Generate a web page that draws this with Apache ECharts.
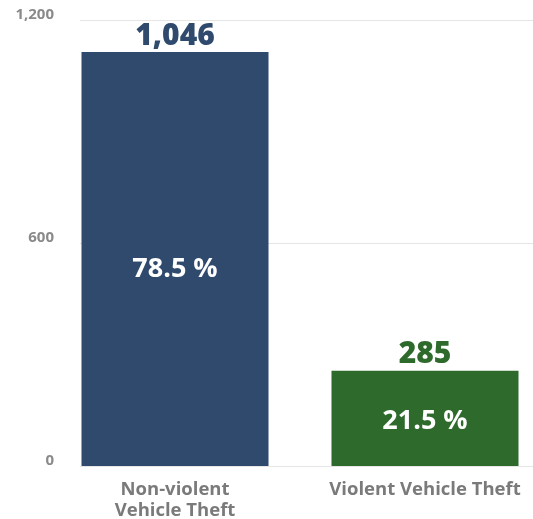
<!DOCTYPE html>
<html><head><meta charset="utf-8">
<script src="https://cdn.jsdelivr.net/npm/echarts@6/dist/echarts.min.js"></script>
<style>html,body{margin:0;padding:0;background:#fff}#c{width:533px;height:519px}</style>
</head><body><div id="c"></div>
<script>
const categories = ['Non-violent\nVehicle Theft', 'Violent Vehicle Theft'];
const barValues = [1114, 256];          // bar heights as drawn
const valueLabels = ['1,046', '285'];   // labels printed above bars
const shareLabels = ['78.5 %', '21.5 %'];
const barColors = ['#2f4a6d', '#2d6a2c'];
const yTicks = [0, 600, 1200];

const chart = echarts.init(document.getElementById('c'));
const font = '"Open Sans", sans-serif';
chart.setOption({
  animation: false,
  grid: [
    {left: 80, right: 0, top: 20, bottom: 53, outerBoundsMode: 'none'},
    {left: 50, width: 500, top: 20, bottom: 53, outerBoundsMode: 'none'}
  ],
  xAxis: [
    {gridIndex: 0, type: 'category', data: categories, show: false},
    {gridIndex: 1, type: 'category', data: categories,
     axisLine: {show: false}, axisTick: {show: false},
     axisLabel: {color: '#7a7a7a', fontWeight: 'bold', fontSize: 18.5, fontFamily: font, lineHeight: 21, margin: 13}}
  ],
  yAxis: [
    {gridIndex: 0, type: 'value', min: 0, max: yTicks[2], interval: yTicks[1],
     axisLine: {show: false}, axisTick: {show: false},
     splitLine: {lineStyle: {color: '#e6e6e6', width: 1}},
     axisLabel: {color: '#8a8a8a', fontWeight: 'bold', fontSize: 15, fontFamily: font, margin: 26,
       verticalAlign: 'bottom', lineHeight: 10,
       formatter: v => v.toLocaleString('en-US')}},
    {gridIndex: 1, type: 'value', min: 0, max: yTicks[2], show: false}
  ],
  series: [{
    type: 'bar', xAxisIndex: 1, yAxisIndex: 1, barWidth: 187,
    data: barValues.map((v, i) => ({value: v, itemStyle: {color: barColors[i]},
      label: {show: true, position: 'top', distance: 1, formatter: valueLabels[i],
        color: barColors[i], fontSize: 30, fontWeight: 800, fontFamily: font}}))
  }, {
    type: 'bar', xAxisIndex: 1, yAxisIndex: 1, barWidth: 187, barGap: '-100%',
    data: barValues.map((v, i) => ({value: v, itemStyle: {color: 'rgba(0,0,0,0)'},
      label: {show: true, position: 'inside', formatter: shareLabels[i],
        color: '#ffffff', fontSize: 27, fontWeight: 'bold', fontFamily: font, offset: [0, i === 0 ? 10 : 3]}})),
    z: 3
  }]
});
</script></body></html>
